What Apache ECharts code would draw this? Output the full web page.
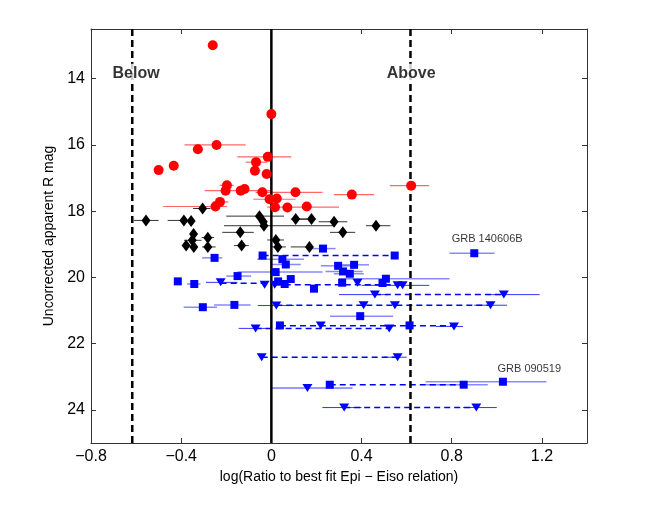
<!DOCTYPE html>
<html>
<head>
<meta charset="utf-8">
<script src="https://cdn.jsdelivr.net/npm/echarts@6/dist/echarts.min.js"></script>
<style>
  html, body { margin: 0; padding: 0; background: #fff; }
  #chart { width: 658px; height: 518px; }
</style>
</head>
<body>
<div id="chart"></div>
<script>
// tick labels
const xTicks = [-0.8, -0.4, 0, 0.4, 0.8, 1.2];
const yTicks = [14, 16, 18, 20, 22, 24];

// red circles [x, mag]
const redPoints = [
  [-0.26, 12.99], [0.0, 15.07], [-0.243, 16.0], [-0.326, 16.13], [-0.016, 16.36],
  [-0.068, 16.52], [-0.433, 16.63], [-0.5, 16.76], [-0.073, 16.78], [-0.021, 16.88],
  [-0.197, 17.22], [-0.203, 17.38], [-0.136, 17.38], [-0.119, 17.33], [-0.04, 17.43],
  [0.107, 17.43], [0.357, 17.5], [-0.008, 17.64], [0.024, 17.62], [-0.228, 17.72],
  [-0.248, 17.86], [0.016, 17.88], [0.071, 17.89], [0.157, 17.86], [0.62, 17.23]
];
// [lo, hi, mag]
const redErr = [
  [-0.385, -0.114, 16.0], [-0.151, 0.089, 16.36], [-0.114, -0.018, 16.52],
  [-0.095, -0.048, 16.78], [-0.23, -0.167, 17.22], [-0.296, -0.003, 17.38],
  [-0.07, 0.227, 17.43], [0.278, 0.456, 17.5], [-0.08, 0.107, 17.64],
  [-0.26, -0.19, 17.72], [-0.48, -0.196, 17.86], [-0.018, 0.30, 17.88],
  [0.526, 0.70, 17.23]
];

// black diamonds
const blackPoints = [
  [-0.305, 17.92], [-0.556, 18.28], [-0.388, 18.28], [-0.356, 18.3], [-0.053, 18.15],
  [-0.036, 18.32], [-0.033, 18.44], [0.108, 18.24], [0.178, 18.24], [0.278, 18.32],
  [0.464, 18.44], [0.317, 18.64], [-0.138, 18.64], [-0.345, 18.69], [-0.282, 18.8],
  [-0.351, 18.88], [-0.378, 19.04], [-0.344, 19.08], [-0.282, 19.08], [-0.132, 19.04],
  [0.02, 18.87], [0.029, 19.08], [0.169, 19.08]
];
const blackErr = [
  [-0.347, -0.27, 17.92], [-0.61, -0.5, 18.28], [-0.46, -0.345, 18.28],
  [-0.2, 0.056, 18.15], [-0.21, 0.278, 18.44], [0.086, 0.16, 18.24],
  [0.11, 0.197, 18.24], [0.21, 0.337, 18.32], [0.42, 0.528, 18.44],
  [0.26, 0.372, 18.64], [-0.218, -0.078, 18.64], [-0.31, -0.254, 18.8],
  [-0.387, -0.31, 18.88], [-0.307, -0.247, 19.08], [-0.166, -0.1, 19.04],
  [-0.018, 0.056, 18.87], [-0.003, 0.064, 19.08], [0.086, 0.175, 19.08]
];

// blue squares (detections)
const blueSquares = [
  [0.229, 19.13], [-0.252, 19.41], [-0.039, 19.34], [0.547, 19.34], [0.049, 19.45],
  [0.064, 19.61], [0.296, 19.65], [0.367, 19.62], [0.318, 19.82], [0.348, 19.89],
  [0.019, 19.84], [-0.15, 19.96], [-0.415, 20.12], [-0.342, 20.2], [0.086, 20.05],
  [0.03, 20.12], [0.059, 20.2], [0.189, 20.34], [0.314, 20.16], [0.493, 20.17],
  [0.508, 20.04], [0.9, 19.27], [-0.164, 20.83], [-0.304, 20.9], [0.394, 21.17],
  [0.038, 21.45], [0.613, 21.45], [0.259, 23.24], [0.853, 23.24], [1.027, 23.15]
];
const squareErr = [
  [0.17, 0.285, 19.13], [-0.307, -0.218, 19.41], [-0.063, 0.145, 19.45],
  [-0.003, 0.13, 19.61], [0.219, 0.352, 19.65], [0.308, 0.433, 19.62],
  [0.24, 0.405, 19.82], [0.277, 0.41, 19.89], [-0.15, 0.227, 19.84],
  [-0.2, -0.09, 19.96], [-0.374, -0.314, 20.2], [0.3, 0.79, 20.04],
  [0.79, 0.99, 19.27], [-0.254, -0.092, 20.83], [-0.389, -0.241, 20.9],
  [0.26, 0.54, 21.17], [0.686, 0.96, 23.24], [0.684, 1.22, 23.15]
];

// blue triangles (upper limits)
const blueTriangles = [
  [-0.225, 20.15], [-0.03, 20.22], [0.015, 20.22], [0.382, 20.16], [0.56, 20.24],
  [0.582, 20.24], [0.459, 20.52], [1.031, 20.52], [0.022, 20.85], [0.409, 20.84],
  [0.548, 20.84], [0.972, 20.84], [-0.07, 21.54], [0.219, 21.45], [0.523, 21.54],
  [0.81, 21.48], [-0.043, 22.41], [0.56, 22.41], [0.16, 23.34], [0.323, 23.93],
  [0.909, 23.93]
];
const triangleErr = [
  [-0.29, -0.15, 20.15], [0.4, 0.7, 20.24], [0.3, 0.52, 20.52], [0.96, 1.19, 20.52],
  [-0.06, 0.1, 20.85], [0.9, 1.045, 20.84], [-0.145, -0.02, 21.54], [0.73, 0.85, 21.48],
  [0.5, 0.6, 22.41], [0.0, 0.36, 23.34], [0.226, 0.4, 23.93], [0.85, 1.0, 23.93]
];

// dashed ranges [from, to, mag]
const blueRanges = [
  [-0.039, 0.547, 19.34], [-0.225, -0.03, 20.18], [0.015, 0.582, 20.22],
  [0.459, 1.031, 20.52], [0.022, 0.972, 20.84], [0.038, 0.81, 21.46],
  [-0.07, 0.523, 21.54], [-0.043, 0.56, 22.41], [0.259, 0.853, 23.24],
  [0.323, 0.909, 23.93]
];

const cutoff = 0.617;
const notes = [[-0.6, 13.85, 'Below'], [0.62, 13.85, 'Above']];
const grbNotes = [[0.957, 18.85, 'GRB 140606B'], [1.144, 22.75, 'GRB 090519']];

const chart = echarts.init(document.getElementById('chart'));

const segments = (data, stroke, width, dash) => ({
  type: 'custom',
  data,
  encode: { x: [0, 1], y: 2 },
  z: 2,
  silent: true,
  renderItem: (params, api) => {
    const a = api.coord([api.value(0), api.value(2)]);
    const b = api.coord([api.value(1), api.value(2)]);
    return {
      type: 'line',
      shape: { x1: a[0], y1: a[1], x2: b[0], y2: b[1] },
      style: { stroke, lineWidth: width, lineDash: dash || null }
    };
  }
});

const vline = (x, dashed, width) => ({
  type: 'line',
  data: [[x, 12.5], [x, 25]],
  symbol: 'none',
  z: 3,
  silent: true,
  lineStyle: { color: '#000', width, type: dashed ? [7, 4] : 'solid' }
});

const fmt = (v) => (v < 0 ? '\u2212' + Math.abs(v) : String(v));
const axisColor = '#333';
const tickFont = { color: '#000', fontSize: 16, fontFamily: 'Liberation Sans' };

const option = {
  animation: false,
  backgroundColor: '#fff',
  grid: { left: 91, right: 71, top: 29, bottom: 75 },
  xAxis: [
    {
      type: 'value', min: -0.8, max: 1.4,
      name: 'log(Ratio to best fit Epi \u2212 Eiso relation)',
      nameLocation: 'middle', nameGap: 22,
      nameTextStyle: { color: '#000', fontSize: 14, fontFamily: 'Liberation Sans' },
      axisLine: { onZero: false, lineStyle: { color: axisColor } },
      axisTick: { inside: true, length: 5, customValues: xTicks, lineStyle: { color: axisColor } },
      axisLabel: { customValues: xTicks, formatter: fmt, margin: 6, ...tickFont },
      splitLine: { show: false }
    },
    {
      type: 'value', min: -0.8, max: 1.4, position: 'top',
      axisLine: { onZero: false, lineStyle: { color: axisColor } },
      axisTick: { inside: true, length: 5, customValues: xTicks, lineStyle: { color: axisColor } },
      axisLabel: { show: false },
      splitLine: { show: false }
    }
  ],
  yAxis: [
    {
      type: 'value', min: 12.5, max: 25, inverse: true,
      name: 'Uncorrected apparent R mag',
      nameLocation: 'middle', nameGap: 31, nameRotate: 90,
      nameTextStyle: { color: '#000', fontSize: 14, fontFamily: 'Liberation Sans' },
      axisLine: { show: true, onZero: false, lineStyle: { color: axisColor } },
      axisTick: { show: true, inside: true, length: 5, customValues: yTicks, lineStyle: { color: axisColor } },
      axisLabel: { customValues: yTicks, margin: 6, ...tickFont },
      splitLine: { show: false }
    },
    {
      type: 'value', min: 12.5, max: 25, inverse: true, position: 'right',
      axisLine: { show: true, onZero: false, lineStyle: { color: axisColor } },
      axisTick: { show: true, inside: true, length: 5, customValues: yTicks, lineStyle: { color: axisColor } },
      axisLabel: { show: false },
      splitLine: { show: false }
    }
  ],
  series: [
    vline(0, false, 2.5),
    vline(-cutoff, true, 2.5),
    vline(cutoff, true, 2.5),
    segments(redErr, 'rgba(255,40,40,0.7)', 1.2),
    segments(blackErr, 'rgba(0,0,0,0.8)', 1),
    segments(squareErr, 'rgba(40,40,255,0.55)', 1.5),
    segments(triangleErr, 'rgba(0,0,255,0.8)', 1),
    segments(blueRanges, '#0000ff', 1.5, [6, 4]),
    {
      type: 'scatter', data: redPoints, symbol: 'circle', symbolSize: 10, z: 5,
      itemStyle: { color: '#ff0000', opacity: 1 }
    },
    {
      type: 'scatter', data: blackPoints, symbol: 'diamond', symbolSize: [9, 12], z: 5,
      itemStyle: { color: '#000', opacity: 1 }
    },
    {
      type: 'scatter', data: blueSquares, symbol: 'rect', symbolSize: 8, z: 5,
      itemStyle: { color: '#0000ff', opacity: 1 }
    },
    {
      type: 'scatter', data: blueTriangles, symbol: 'triangle', symbolRotate: 180,
      symbolSize: [10, 8], z: 5,
      itemStyle: { color: '#0000ff', opacity: 1 }
    },
    {
      type: 'scatter', data: notes, symbolSize: 0, z: 6, silent: true,
      label: {
        show: true, position: 'inside', formatter: (p) => p.data[2],
        color: '#000', fontSize: 16, fontWeight: 'bold', fontFamily: 'Liberation Sans',
        backgroundColor: '#fff', padding: [2, 1]
      }
    },
    {
      type: 'scatter', data: grbNotes, symbolSize: 0, z: 6, silent: true,
      label: {
        show: true, position: 'inside', formatter: (p) => p.data[2],
        color: '#000', fontSize: 11, fontFamily: 'Liberation Sans'
      }
    }
  ]
};

chart.setOption(option);
</script>
</body>
</html>
